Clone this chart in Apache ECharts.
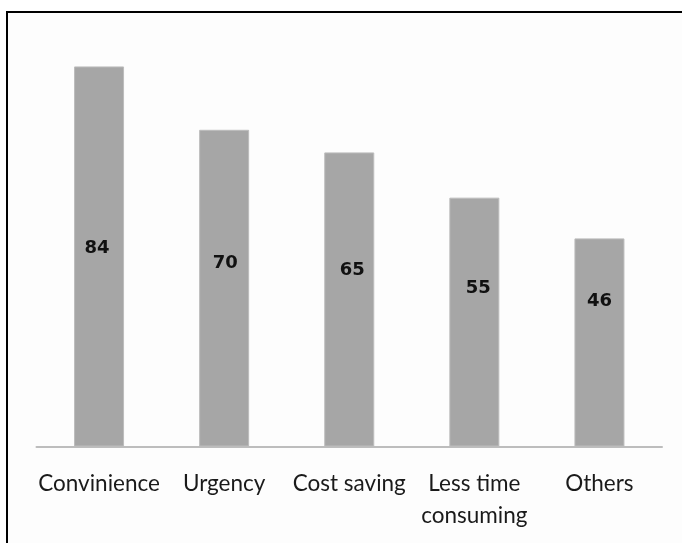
<!DOCTYPE html>
<html>
<head>
<meta charset="utf-8">
<script src="https://cdn.jsdelivr.net/npm/echarts@6/dist/echarts.min.js"></script>
<style>
  html, body { margin: 0; padding: 0; background: #ffffff; }
  #chart { width: 682px; height: 543px; }
</style>
</head>
<body>
<div id="chart"></div>
<script>
// reasons given, in percent
const categories = ['Convinience', 'Urgency', 'Cost saving', 'Less time\nconsuming', 'Others'];
const values = [84, 70, 65, 55, 46];

// nudges so the value labels sit where the original put them
const labelNudge = [[-2, -8], [1, -25], [3, -29], [4, -34], [0, -41]];

const chart = echarts.init(document.getElementById('chart'));

chart.setOption({
    animation: false,
    backgroundColor: '#ffffff',
    graphic: [
        {
            type: 'rect',
            shape: { x: 7, y: 12, width: 700, height: 560 },
            style: { fill: '#fdfdfd', stroke: '#000', lineWidth: 2 },
            z: -10
        }
    ],
    grid: { left: 36.5, right: 20, top: 39.3, bottom: 96.5 },
    xAxis: {
        type: 'category',
        data: categories,
        axisLine: { lineStyle: { color: '#bdbdbd', width: 2 } },
        axisTick: { show: false },
        axisLabel: {
            color: '#1a1a1a',
            fontFamily: 'Lato',
            fontSize: 22.5,
            lineHeight: 32,
            margin: 21,
            interval: 0
        }
    },
    yAxis: {
        type: 'value',
        min: 0,
        max: 90,
        show: false,
        splitLine: { show: false }
    },
    series: [{
        type: 'bar',
        barWidth: 50,
        data: values.map((v, i) => ({
            value: v,
            label: { offset: labelNudge[i] }
        })),
        itemStyle: { color: '#a6a6a6', borderColor: '#bcbcbc', borderWidth: 1 },
        label: {
            show: true,
            position: 'inside',
            color: '#111',
            fontFamily: 'DejaVu Sans',
            fontWeight: 'bold',
            fontSize: 18
        }
    }]
});
</script>
</body>
</html>
